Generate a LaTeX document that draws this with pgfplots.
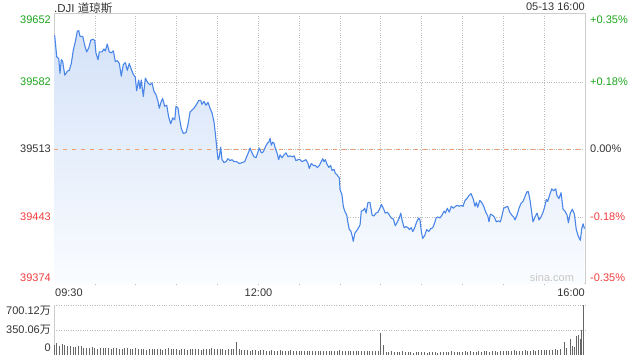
\documentclass[border=0pt]{standalone}
\usepackage{pgfplots}
\pgfplotsset{compat=1.18}
\usepackage{pgfplotstable}
\usepackage{fontspec}
\setmainfont{Liberation Sans}
\newfontfamily\cjk{Noto Sans CJK SC}
\definecolor{upg}{HTML}{1DA51D}
\definecolor{dnr}{HTML}{F03C3C}
\definecolor{ln}{HTML}{4A86E8}
\definecolor{fr}{HTML}{CCCCCC}
\definecolor{gr}{HTML}{BBBBBB}
\definecolor{txt}{HTML}{333333}
\definecolor{vol}{HTML}{666666}
\definecolor{zero}{HTML}{F0A070}

\pgfplotstableread{
m p
0.5 39630
2.0 39608
3.5 39606
4.4 39591
5.4 39605
6.4 39603
7.9 39589
9.8 39593
11.2 39594
12.7 39601
14.2 39615
15.6 39623
17.1 39634
18.1 39635
19.1 39629
21.1 39629
22.5 39620
24.0 39613
25.5 39617
27.0 39625
28.4 39626
29.9 39625
30.8 39612
32.3 39605
33.3 39613
35.3 39613
36.7 39616
37.7 39614
39.1 39621
40.6 39613
42.1 39612
43.6 39614
45.0 39603
46.5 39604
48.0 39601
49.4 39588
50.9 39600
52.4 39602
53.8 39594
55.3 39601
56.8 39595
58.2 39590
59.7 39587
60.7 39573
62.2 39584
63.2 39575
64.1 39584
65.6 39567
67.1 39586
68.5 39582
70.5 39579
72.0 39581
73.5 39572
74.9 39569
76.4 39562
77.3 39555
78.8 39562
79.8 39565
81.3 39557
82.8 39558
84.2 39546
85.7 39539
87.2 39545
88.7 39543
89.6 39557
91.1 39555
92.0 39546
93.5 39534
95.0 39529
97.0 39530
98.4 39538
99.9 39551
101.4 39553
102.8 39555
104.3 39558
106.3 39563
107.7 39563
108.7 39559
110.2 39562
111.6 39558
113.1 39561
114.6 39555
116.1 39550
117.5 39541
118.5 39529
119.5 39515
120.5 39502
121.4 39505
122.4 39515
123.4 39502
124.9 39499
126.3 39500
127.8 39503
129.3 39501
130.7 39502
132.2 39500
134.2 39500
136.1 39498
138.1 39499
140.1 39500
141.5 39505
143.0 39510
144.0 39514
145.4 39509
146.9 39505
148.4 39504
149.8 39510
150.8 39514
152.3 39509
153.7 39510
155.2 39515
156.7 39519
157.7 39520
158.7 39524
159.6 39517
160.6 39520
161.6 39519
162.5 39514
164.0 39508
165.0 39502
166.0 39507
167.5 39504
168.9 39507
170.4 39509
171.9 39505
173.3 39506
174.8 39505
176.3 39506
177.7 39501
179.2 39502
180.7 39502
182.2 39500
183.6 39501
185.1 39502
186.6 39498
187.5 39493
189.0 39498
190.5 39496
191.9 39496
193.4 39494
194.9 39496
196.3 39500
197.4 39503
198.3 39500
199.3 39502
200.3 39498
201.8 39494
203.2 39496
204.2 39491
205.7 39492
206.6 39488
208.1 39486
209.6 39483
210.1 39471
211.5 39466
212.5 39454
213.5 39449
215.0 39445
215.9 39437
216.9 39430
217.9 39429
218.9 39424
219.8 39418
220.9 39426
221.8 39428
223.3 39431
224.8 39435
225.7 39449
227.2 39450
228.2 39452
229.2 39447
230.6 39458
232.1 39458
233.6 39445
235.0 39444
236.5 39447
238.0 39448
239.4 39452
240.4 39456
241.9 39452
243.3 39447
244.8 39448
246.3 39445
247.7 39442
249.2 39441
250.7 39434
252.2 39438
253.6 39442
254.7 39447
255.6 39440
257.1 39432
258.5 39433
260.0 39432
261.0 39430
262.4 39432
263.5 39428
264.9 39432
266.4 39438
267.9 39442
268.8 39440
269.8 39428
270.8 39421
272.3 39424
273.7 39430
275.2 39428
276.7 39431
278.2 39432
279.6 39437
280.6 39442
282.0 39443
283.5 39442
285.0 39445
286.5 39449
287.4 39447
288.9 39452
290.3 39448
291.8 39454
293.3 39452
294.8 39454
296.2 39455
297.7 39454
298.9 39455
300.4 39454
301.9 39460
303.3 39462
304.8 39465
306.3 39467
307.8 39462
309.2 39454
310.2 39458
311.2 39453
312.7 39460
314.1 39458
315.6 39454
317.1 39448
318.6 39444
319.5 39438
320.5 39446
321.9 39445
323.4 39443
324.9 39438
326.3 39439
327.8 39438
328.8 39443
330.3 39452
331.7 39453
333.2 39454
334.7 39448
336.2 39445
337.6 39443
338.6 39440
340.1 39445
341.5 39452
343.0 39457
344.5 39459
345.9 39464
347.4 39469
348.4 39469
349.8 39459
350.9 39447
351.8 39438
353.3 39443
354.8 39447
356.2 39440
357.7 39443
359.2 39448
360.1 39452
361.6 39461
362.6 39459
364.1 39466
365.6 39472
367.0 39470
368.5 39472
369.4 39465
370.9 39462
372.4 39468
373.9 39451
375.3 39449
376.8 39445
377.8 39437
379.2 39447
380.7 39451
382.2 39446
383.6 39430
385.1 39423
386.6 39419
387.6 39431
388.6 39436
389.6 39431
}\price

\pgfplotstableread{
m v
0 140
2 175
4 125
6 150
8 135
10 120
12 130
14 110
16 115
18 125
20 120
22 105
24 100
26 95
28 110
30 100
32 90
34 95
36 100
38 105
40 95
42 90
44 100
46 95
48 85
50 90
52 95
54 100
56 90
58 85
60 95
62 80
64 85
66 80
68 75
70 85
72 80
74 85
76 90
78 80
80 75
82 85
84 95
86 85
88 80
90 90
92 75
94 80
96 85
98 75
100 80
102 85
104 80
106 90
108 75
110 85
112 90
114 80
116 95
118 85
120 80
122 80
124 85
126 75
128 80
130 90
132 85
134 180
136 85
138 70
140 65
142 70
144 60
146 65
148 70
150 60
152 65
154 70
156 60
158 55
160 65
162 60
164 55
166 65
168 60
170 55
172 60
174 65
176 55
178 60
180 50
182 55
184 60
186 55
188 50
190 60
192 55
194 50
196 55
198 60
200 55
202 50
204 55
206 60
208 55
210 65
212 60
214 55
216 50
218 60
220 55
222 50
224 55
226 60
228 55
230 50
232 55
234 60
236 50
238 55
240 305
242 145
244 45
246 40
248 50
250 45
252 40
254 45
256 50
258 40
260 45
262 40
264 35
266 45
268 40
270 45
272 40
274 35
276 40
278 45
280 40
282 35
284 40
286 45
288 40
290 45
292 50
294 45
296 40
298 45
300 40
302 50
304 45
306 50
308 40
310 45
312 50
314 45
316 55
318 50
320 45
322 50
324 55
326 45
328 50
330 55
332 55
334 60
336 55
338 70
340 60
342 55
344 60
346 65
348 55
350 60
352 65
354 60
356 65
358 70
360 70
362 65
364 75
366 70
368 80
370 75
372 85
374.8 177
376.5 98
379.0 229
380.7 130
382.2 115
383.9 271
385.1 285
386.4 224
387.6 350
389.0 700
}\volume

\begin{document}
\begin{tikzpicture}[every node/.style={font=\fontsize{11bp}{13bp}\selectfont, inner sep=0pt}]
\useasboundingbox (0,0) rectangle (640bp,360bp);

% main price axis
\begin{axis}[
  at={(54bp,76bp)}, anchor=south west,
  width=531bp, height=270bp, scale only axis,
  xmin=0, xmax=390, ymin=39374, ymax=39652,
  xtick={30,60,...,360}, ytick={39582,39513,39443},
  xticklabels={}, yticklabels={},
  scaled x ticks=false, scaled y ticks=false,
  major tick length=0pt,
  grid=major,
  grid style={dotted, line width=0.6bp, color=gr},
  axis line style={color=fr, line width=1bp},
  clip=true,
]
\addplot[draw=none, top color={rgb,255:red,212;green,226;blue,248}, bottom color={rgb,255:red,250;green,252;blue,255}]
  table[x=m, y=p]{\price} |- (axis cs:0,39374) -- cycle;
\addplot[zero, dashed, dash pattern=on 4bp off 5bp, line width=0.9bp] coordinates {(0,39513) (390,39513)};
\addplot[ln, line width=1.1bp, line join=round] table[x=m, y=p]{\price};
\end{axis}

% volume axis
\begin{axis}[
  at={(54bp,5bp)}, anchor=south west,
  width=531bp, height=50bp, scale only axis,
  xmin=0, xmax=390, ymin=0, ymax=700.12,
  axis x line=none,
  axis y line*=left,
  y axis line style={color=fr, line width=1bp, -},
  ytick={350.06,700.12}, yticklabels={},
  scaled y ticks=false,
  major tick length=0pt,
  ymajorgrids,
  grid style={dotted, line width=0.6bp, color=gr},
  clip=false,
]
\addplot[ycomb, vol, line width=1bp] table[x=m, y=v]{\volume};
\end{axis}

% header
\node[anchor=west, text=txt, font=\fontsize{11.5bp}{13bp}\selectfont] at (54bp,352bp) {.DJI {\cjk 道琼斯}};
\node[anchor=east, text=txt] at (585bp,353bp) {05-13 16:00};

% left price labels
\node[anchor=east, text=upg] at (51bp,340bp) {39652};
\node[anchor=east, text=upg] at (51bp,278bp) {39582};
\node[anchor=east, text=txt] at (51bp,211bp) {39513};
\node[anchor=east, text=dnr] at (51bp,143bp) {39443};
\node[anchor=east, text=dnr] at (51bp,82bp) {39374};

% right percent labels
\node[anchor=west, text=upg] at (590bp,340bp) {+0.35\%};
\node[anchor=west, text=upg] at (590bp,278bp) {+0.18\%};
\node[anchor=west, text=txt] at (590bp,211bp) {0.00\%};
\node[anchor=west, text=dnr] at (590bp,143bp) {-0.18\%};
\node[anchor=west, text=dnr] at (590bp,82bp) {-0.35\%};

% time labels
\node[anchor=west, text=txt] at (55bp,67bp) {09:30};
\node[text=txt] at (258.5bp,67bp) {12:00};
\node[anchor=east, text=txt] at (585bp,67bp) {16:00};

% volume labels
\node[anchor=east, text=txt] at (51bp,49bp) {700.12{\cjk 万}};
\node[anchor=east, text=txt] at (51bp,30bp) {350.06{\cjk 万}};
\node[anchor=east, text=txt] at (51bp,12bp) {0};

% watermark
\node[text=black!22] at (552bp,82bp) {sina.com};
\end{tikzpicture}
\end{document}
